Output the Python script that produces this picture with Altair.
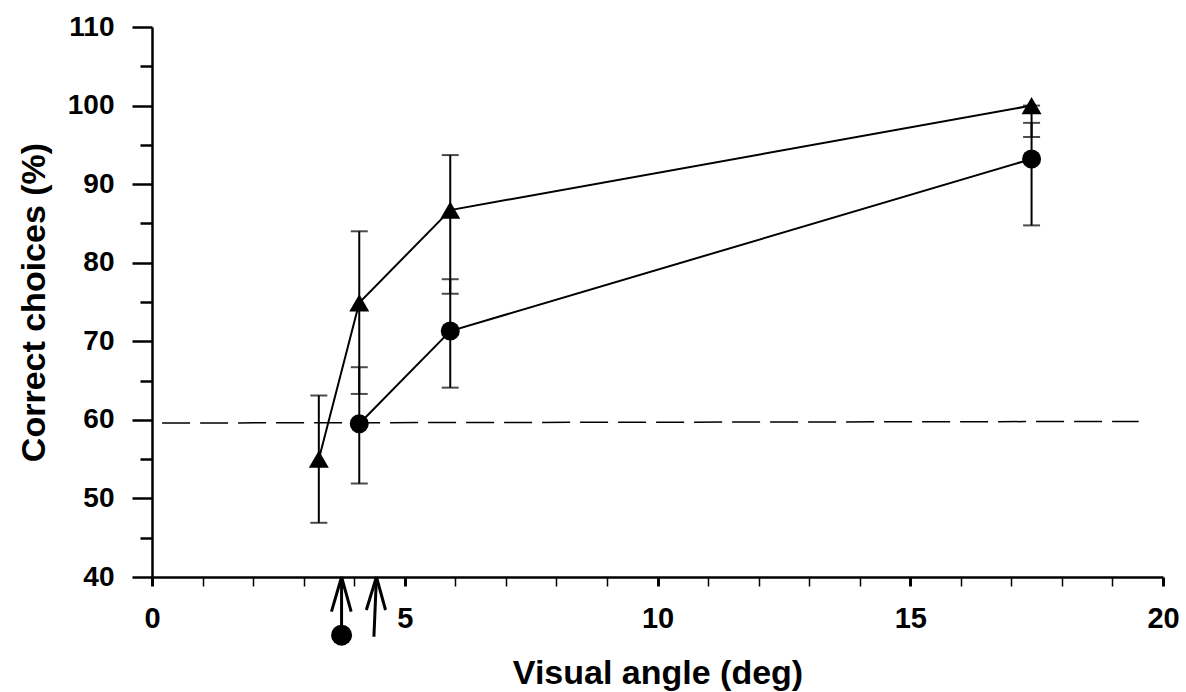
import altair as alt
import pandas as pd

# ---- data ----
tri_x = [3.3, 4.1, 5.9, 17.4]
tri_y = [55.0, 74.9, 86.7, 100.0]
tri_lo = [46.9, 63.3, 76.05, 96.0]
tri_hi = [63.1, 84.0, 93.7, 100.0]

circ_x = [4.1, 5.9, 17.4]
circ_y = [59.5, 71.3, 93.2]
circ_lo = [51.9, 64.1, 84.75]
circ_hi = [66.7, 77.9, 97.8]

chance_x = [0.2, 19.52]
chance_y = [59.6, 59.8]

x_major = [0, 5, 10, 15, 20]
x_minor = [1, 2, 3, 4, 6, 7, 8, 9, 11, 12, 13, 14, 16, 17, 18, 19]
y_major = [40, 50, 60, 70, 80, 90, 100, 110]
y_minor = [45, 55, 65, 75, 85, 95, 105]

arrow_tip_x = [3.75, 4.44]
arrow_tail_x = [3.75, 4.39]
arrow_tip_y = [40.0, 40.0]
arrow_tail_y = [32.6, 32.4]
wing_left_x = [3.55, 4.24]
wing_right_x = [3.94, 4.62]
wing_y = [35.6, 35.8]
dot_x = [3.75]
dot_y = [32.6]

FONT = "Liberation Sans"

# ---- tables ----
tri = pd.DataFrame({"x": tri_x, "y": tri_y, "lo": tri_lo, "hi": tri_hi})
circ = pd.DataFrame({"x": circ_x, "y": circ_y, "lo": circ_lo, "hi": circ_hi})
err = pd.concat([tri, circ], ignore_index=True)
caps = pd.concat([
    pd.DataFrame({"x": err["x"], "y": err["lo"]}),
    pd.DataFrame({"x": err["x"], "y": err["hi"]}),
], ignore_index=True)
chance = pd.DataFrame({"x": chance_x, "y": chance_y})
shafts = pd.DataFrame({"x": arrow_tip_x, "y": arrow_tip_y,
                       "x2": arrow_tail_x, "y2": arrow_tail_y})
wings = pd.DataFrame({
    "x": arrow_tip_x + arrow_tip_x,
    "y": arrow_tip_y + arrow_tip_y,
    "x2": wing_left_x + wing_right_x,
    "y2": wing_y + wing_y,
})
dot = pd.DataFrame({"x": dot_x, "y": dot_y})
minor = pd.DataFrame({"x": [0.0], "y": [40.0]})

xs = alt.Scale(domain=[0, 20], nice=False, zero=False)
ys = alt.Scale(domain=[40, 110], nice=False, zero=False)

x_axis = alt.Axis(
    values=x_major, tickSize=9, tickWidth=3, tickColor="black",
    domainWidth=2.5, domainColor="black", grid=False,
    labelFont=FONT, labelFontSize=29, labelFontWeight="bold", labelColor="black",
    labelPadding=18, labelFlush=False,
    title="Visual angle (deg)", titleFont=FONT, titleFontSize=34,
    titleFontWeight="bold", titleColor="black", titleY=106,
    titleBaseline="alphabetic",
)
y_axis = alt.Axis(
    values=y_major, tickSize=20, tickWidth=2.5, tickColor="black",
    domainWidth=2.5, domainColor="black", grid=False,
    labelFont=FONT, labelFontSize=28, labelFontWeight="bold", labelColor="black",
    labelPadding=18, labelFlush=False,
    title="Correct choices (%)", titleFont=FONT, titleFontSize=34,
    titleFontWeight="bold", titleColor="black", titleAngle=270,
    titleX=-108, titleY=275, titleBaseline="alphabetic", titleAlign="center",
)

X = lambda: alt.X("x:Q", scale=xs, axis=None)
Y = lambda: alt.Y("y:Q", scale=ys, axis=None)

# main line (carries the main axes)
tri_line = alt.Chart(tri).mark_line(color="black", strokeWidth=2).encode(
    x=alt.X("x:Q", scale=xs, axis=x_axis),
    y=alt.Y("y:Q", scale=ys, axis=y_axis),
)

# minor ticks axes
minor_axes = alt.Chart(minor).mark_point(opacity=0).encode(
    x=alt.X("x:Q", scale=xs, axis=alt.Axis(
        values=x_minor, tickSize=9, tickWidth=1.5, tickColor="black",
        domain=False, labels=False, grid=False, title=None, orient="bottom")),
    y=alt.Y("y:Q", scale=ys, axis=alt.Axis(
        values=y_minor, tickSize=12, tickWidth=2.5, tickColor="black",
        domain=False, labels=False, grid=False, title=None, orient="left")),
)

circ_line = alt.Chart(circ).mark_line(color="black", strokeWidth=2).encode(x=X(), y=Y())

err_rules = alt.Chart(err).mark_rule(color="black", strokeWidth=2).encode(
    x=X(), y=alt.Y("lo:Q", scale=ys, axis=None), y2="hi:Q")
err_caps = alt.Chart(caps).mark_tick(
    color="black", orient="horizontal", size=17, thickness=2).encode(x=X(), y=Y())

chance_line = alt.Chart(chance).mark_line(
    color="black", strokeWidth=1.5, strokeDash=[28, 10]).encode(x=X(), y=Y())

tri_pts = alt.Chart(tri).mark_point(
    shape="triangle-up", filled=True, color="black", size=400, opacity=1).encode(x=X(), y=Y())
circ_pts = alt.Chart(circ).mark_point(
    shape="circle", filled=True, color="black", size=361, opacity=1).encode(x=X(), y=Y())

shaft_rules = alt.Chart(shafts).mark_rule(color="black", strokeWidth=3).encode(
    x=X(), y=Y(), x2="x2:Q", y2="y2:Q")
wing_rules = alt.Chart(wings).mark_rule(color="black", strokeWidth=3).encode(
    x=X(), y=Y(), x2="x2:Q", y2="y2:Q")
dot_pt = alt.Chart(dot).mark_point(
    shape="circle", filled=True, color="black", size=441, opacity=1).encode(x=X(), y=Y())

chart = alt.layer(
    tri_line, minor_axes, chance_line, err_rules, err_caps, circ_line,
    tri_pts, circ_pts, shaft_rules, wing_rules, dot_pt,
).resolve_axis(x="independent", y="independent").properties(
    width=1011, height=550,
    padding={"left": 152, "top": 27, "right": 23, "bottom": 115},
    autosize=alt.AutoSizeParams(type="none"),
    background="white",
).configure_view(stroke=None)

chart.save("out.html", embed_options={"renderer": "svg", "actions": False})
